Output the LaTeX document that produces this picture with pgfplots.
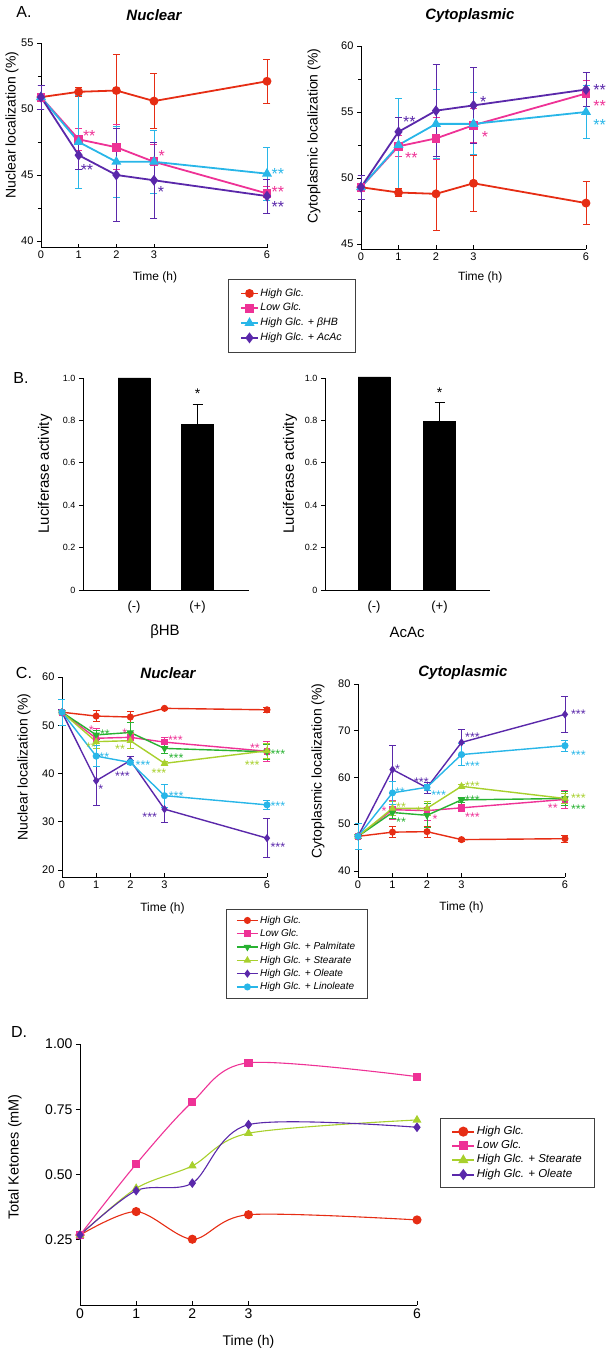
\documentclass[border=0pt]{standalone}
\usepackage{fontspec}
\setmainfont{Liberation Sans}
\usepackage{pgfplots}
\pgfplotsset{compat=1.18}

\definecolor{cRed}{RGB}{230,45,20}
\definecolor{cPink}{RGB}{238,50,150}
\definecolor{cCyan}{RGB}{40,182,232}
\definecolor{cPurple}{RGB}{90,40,170}
\definecolor{cGreen}{RGB}{40,178,50}
\definecolor{cLime}{RGB}{168,208,45}

\newcommand{\fs}[1]{\fontsize{#1}{#1}\selectfont}
% significance stars, glyph centred on the given point
\def\stsize{\fs{16}}\def\stshift{-3.4pt}
\newcommand{\st}[4]{\node[text=#1, font=\stsize, inner sep=0pt, anchor=west, yshift=\stshift] at (axis cs:#2,#3) {#4};}

\pgfplotsset{
  panel/.style={scale only axis, axis lines=left, axis line style={-, line width=0.9pt},
    clip=false, tick style={black, line width=0.8pt},
    major tick length=4pt, minor tick length=3pt,
    ytick align=outside, xtick align=inside,
    /pgf/number format/assume math mode=true,
    tick label style={font=\fs{11}},
    label style={font=\fs{14}},
    xlabel style={font=\fs{12}},
    xmin=0, xmax=6, xtick={0,1,2,3,6},
    legend cell align=left,
    legend image code/.code={\draw[mark repeat=2,mark phase=2,##1] plot coordinates {(0pt,0pt) (9pt,0pt) (18pt,0pt)};},
  },
  eb/.style={error bars/.cd, y dir=both, y explicit,
    error bar style={line width=0.8pt, solid},
    error mark options={rotate=90, mark size=3.5pt, line width=0.8pt}},
  sA/.style={color=#1, line width=1.8pt, mark options={solid, fill=#1}},
  sC/.style={color=#1, line width=1.4pt, mark options={solid, fill=#1}},
  barpanel/.style={scale only axis, axis lines=left, axis line style={-, line width=0.9pt}, clip=false,
    height=212pt, ymin=0, ymax=1,
    ybar, bar width=32pt, bar shift=0pt,
    /pgf/number format/assume math mode=true,
    ytick={0,0.2,0.4,0.6,0.8,1}, yticklabels={0,0.2,0.4,0.6,0.8,1.0},
    ytick align=outside, major tick length=4pt, tick style={black, line width=0.8pt},
    xtick={1,2}, xticklabels={(-),(+)}, x tick style={draw=none},
    yticklabel style={font=\fs{9}}, xticklabel style={font=\fs{13}, yshift=-4pt},
    ylabel={Luciferase activity}, ylabel style={font=\fs{15}}, xlabel style={font=\fs{15}}},
}

\begin{document}
\begin{tikzpicture}
\useasboundingbox (0,0) rectangle (607pt,1350pt);

\node[font=\fs{16}] at (24pt,1338pt) {A.};
\node[font=\fs{16}] at (21pt,972pt) {B.};
\node[font=\fs{16}] at (24pt,677pt) {C.};
\node[font=\fs{16}] at (19pt,318pt) {D.};

% ---------------- A: nuclear
\begin{axis}[panel, at={(41pt,1102.4pt)}, width=226pt, height=204.6pt,
  ymin=39.5, ymax=55, ytick={40,45,50,55}, minor y tick num=1,
  xlabel={Time (h)}, ylabel={Nuclear localization (\%)},
  xlabel style={at={(axis description cs:0.504,-0.144)}, anchor=center},
  ylabel style={at={(axis description cs:-0.128,0.6)}, anchor=center},
  title={Nuclear}, title style={at={(axis description cs:0.5,1.108)}, anchor=center, font=\fs{15}\bfseries\itshape},
  legend image code/.code={\draw[mark repeat=2,mark phase=2,#1] plot coordinates {(0pt,0pt) (8.5pt,0pt) (17pt,0pt)};},
  legend style={at={(axis description cs:0.827,-0.1535)}, anchor=north west, draw=black!75,
    font=\fs{10.6}\itshape, row sep=2.3pt, inner xsep=12pt, inner ysep=8pt,
    nodes={inner sep=1.5pt, text height=0.75em, text depth=0.2em}}]
\addplot[sA=cRed, mark=*, mark size=3.5pt, eb] coordinates {
  (0,50.9) +- (0,0.9) (1,51.3) +- (0,0.35) (2,51.4) +- (0,2.7) (3,50.6) +- (0,2.1) (6,52.1) +- (0,1.65)};
\addplot[sA=cPink, mark=square*, mark size=3.5pt, eb] coordinates {
  (0,50.9) +- (0,0.9) (1,47.7) +- (0,0.8) (2,47.1) +- (0,1.7) (3,46.0) +- (0,1.3) (6,43.6) +- (0,0.5)};
\addplot[sA=cCyan, mark=triangle*, mark size=4pt, eb] coordinates {
  (0,50.9) +- (0,0.9) (1,47.5) +- (0,3.5) (2,46.0) +- (0,2.7) (3,46.0) +- (0,2.4) (6,45.1) +- (0,2.0)};
\addplot[sA=cPurple, mark=diamond*, mark size=4pt, eb] coordinates {
  (0,50.9) +- (0,0.9) (1,46.5) +- (0,1.05) (2,45.0) +- (0,3.5) (3,44.6) +- (0,2.9) (6,43.4) +- (0,1.3)};
\legend{High Glc.,Low Glc.,High Glc. + βHB,High Glc. + AcAc}
\st{cPink}{1.11}{48.2}{**}
\st{cPurple}{1.05}{45.6}{**}
\st{cPink}{3.12}{46.7}{*}
\st{cPurple}{3.1}{44.0}{*}
\st{cCyan}{6.12}{45.3}{**}
\st{cPink}{6.12}{43.95}{**}
\st{cPurple}{6.12}{42.8}{**}
\end{axis}

% ---------------- A: cytoplasmic
\begin{axis}[panel, at={(361pt,1100.7pt)}, width=225pt, height=203.3pt,
  ymin=44.6, ymax=60, ytick={45,50,55,60}, minor y tick num=1,
  xlabel={Time (h)}, ylabel={Cytoplasmic localization (\%)},
  xlabel style={at={(axis description cs:0.53,-0.136)}, anchor=center},
  ylabel style={at={(axis description cs:-0.209,0.557)}, anchor=center},
  title={Cytoplasmic}, title style={at={(axis description cs:0.484,1.122)}, anchor=center, font=\fs{15}\bfseries\itshape}]
\addplot[sA=cRed, mark=*, mark size=3.5pt, eb] coordinates {
  (0,49.3) +- (0,0.9) (1,48.9) +- (0,0.3) (2,48.8) +- (0,2.8) (3,49.6) +- (0,2.15) (6,48.1) +- (0,1.65)};
\addplot[sA=cPink, mark=square*, mark size=3.5pt, eb] coordinates {
  (0,49.3) +- (0,0.9) (1,52.4) +- (0,0.8) (2,53.0) +- (0,1.6) (3,54.0) +- (0,1.3) (6,56.4) +- (0,1.0)};
\addplot[sA=cCyan, mark=triangle*, mark size=4pt, eb] coordinates {
  (0,49.3) +- (0,0.9) (1,52.5) +- (0,3.5) (2,54.1) +- (0,2.6) (3,54.1) +- (0,2.35) (6,55.0) +- (0,2.0)};
\addplot[sA=cPurple, mark=diamond*, mark size=4pt, eb] coordinates {
  (0,49.3) +- (0,0.9) (1,53.5) +- (0,1.1) (2,55.1) +- (0,3.5) (3,55.5) +- (0,2.9) (6,56.7) +- (0,1.3)};
\st{cPurple}{1.12}{54.5}{**}
\st{cPurple}{3.17}{56.05}{*}
\st{cPurple}{6.19}{56.95}{**}
\st{cPink}{1.17}{51.8}{**}
\st{cPink}{3.22}{53.4}{*}
\st{cPink}{6.19}{55.7}{**}
\st{cCyan}{6.19}{54.3}{**}
\end{axis}

% ---------------- B
\begin{axis}[barpanel, at={(83pt,760pt)}, width=166pt, xmin=0.197, xmax=2.81,
  xlabel={βHB},
  xlabel style={at={(axis description cs:0.494,-0.198)}, anchor=center},
  ylabel style={at={(axis description cs:-0.229,0.547)}, anchor=center}]
\addplot[fill=black, draw=black, error bars/.cd, y dir=plus, y explicit,
  error bar style={line width=0.8pt, black}, error mark options={rotate=90, mark size=5pt, black, line width=0.8pt}]
  coordinates {(1,1.0) (2,0.78) +- (0,0.095)};
\node[font=\fs{14}] at (axis cs:2,0.925) {*};
\end{axis}

\begin{axis}[barpanel, at={(325pt,760pt)}, width=165pt, xmin=0.252, xmax=2.77,
  xlabel={AcAc},
  xlabel style={at={(axis description cs:0.497,-0.198)}, anchor=center},
  ylabel style={at={(axis description cs:-0.212,0.547)}, anchor=center}]
\addplot[fill=black, draw=black, error bars/.cd, y dir=plus, y explicit,
  error bar style={line width=0.8pt, black}, error mark options={rotate=90, mark size=5pt, black, line width=0.8pt}]
  coordinates {(1,1.005) (2,0.795) +- (0,0.09)};
\node[font=\fs{14}] at (axis cs:2,0.93) {*};
\end{axis}

\def\stsize{\fs{12.5}}\def\stshift{-2.7pt}
% ---------------- C: nuclear
\begin{axis}[panel, at={(62pt,473pt)}, width=205pt, height=200pt,
  ymin=18.55, ymax=60, ytick={20,30,40,50,60},
  xlabel={Time (h)}, ylabel={Nuclear localization (\%)},
  xlabel style={at={(axis description cs:0.49,-0.155)}, anchor=center},
  ylabel style={at={(axis description cs:-0.185,0.55)}, anchor=center},
  title={Nuclear}, title style={at={(axis description cs:0.517,0.99)}, anchor=center, font=\fs{15}\bfseries\itshape},
  legend image code/.code={\draw[mark repeat=2,mark phase=2,#1] plot coordinates {(0pt,0pt) (10.5pt,0pt) (21pt,0pt)};},
  legend style={at={(axis description cs:0.8,-0.16)}, anchor=north west, draw=black!75,
    font=\fs{10}\itshape, row sep=0.8pt, inner xsep=10pt, inner ysep=5pt,
    nodes={inner sep=1.5pt, text height=0.75em, text depth=0.2em}}]
\addplot[sC=cRed, mark=*, mark size=2.8pt, eb] coordinates {
  (0,52.7) +- (0,0.5) (1,51.9) +- (0,1.2) (2,51.7) +- (0,1.1) (3,53.5) +- (0,0.3) (6,53.2) +- (0,0.6)};
\addplot[sC=cPink, mark=square*, mark size=2.6pt, eb] coordinates {
  (0,52.7) +- (0,0.5) (1,47.3) +- (0,2.0) (2,47.5) +- (0,1.0) (3,46.5) +- (0,1.0) (6,44.6) +- (0,2.0)};
\addplot[sC=cGreen, mark=triangle*, mark size=3pt, mark options={rotate=180}, eb] coordinates {
  (0,52.7) +- (0,0.5) (1,48.0) +- (0,1.0) (2,48.5) +- (0,2.0) (3,45.2) +- (0,1.0) (6,44.5) +- (0,1.5)};
\addplot[sC=cLime, mark=triangle*, mark size=3pt, eb] coordinates {
  (0,52.7) +- (0,0.5) (1,46.6) +- (0,1.5) (2,46.8) +- (0,1.5) (3,42.1) +- (0,0.5) (6,44.7) +- (0,1.5)};
\addplot[sC=cPurple, mark=diamond*, mark size=3pt, eb] coordinates {
  (0,52.7) +- (0,0.5) (1,38.5) +- (0,5.2) (2,42.7) +- (0,0.8) (3,32.6) +- (0,2.8) (6,26.6) +- (0,4.0)};
\addplot[sC=cCyan, mark=*, mark size=2.8pt, eb] coordinates {
  (0,52.7) +- (0,2.7) (1,43.6) +- (0,2.2) (2,42.3) +- (0,0.5) (3,35.4) +- (0,2.4) (6,33.5) +- (0,1.0)};
\legend{High Glc.,Low Glc.,High Glc. + Palmitate,High Glc. + Stearate,High Glc. + Oleate,High Glc. + Linoleate}
\st{cPink}{0.78}{49.6}{*}
\st{cGreen}{1.11}{48.7}{**}
\st{cPink}{1.76}{48.9}{*}
\st{cLime}{0.7}{46.1}{**}
\st{cLime}{1.55}{45.6}{**}
\st{cCyan}{1.09}{44.0}{**}
\st{cCyan}{2.15}{42.2}{***}
\st{cPurple}{1.55}{40.0}{***}
\st{cPurple}{1.06}{37.3}{*}
\st{cPink}{3.1}{47.5}{***}
\st{cGreen}{3.12}{43.8}{***}
\st{cLime}{2.62}{40.6}{***}
\st{cCyan}{3.12}{35.9}{***}
\st{cPurple}{2.35}{31.6}{***}
\st{cPink}{5.5}{45.9}{**}
\st{cGreen}{6.1}{44.5}{***}
\st{cLime}{5.35}{42.2}{***}
\st{cCyan}{6.1}{33.7}{***}
\st{cPurple}{6.1}{25.3}{***}
\end{axis}

% ---------------- C: cytoplasmic
\begin{axis}[panel, at={(358pt,473pt)}, width=207pt, height=193pt,
  ymin=38.7, ymax=80, ytick={40,50,60,70,80},
  xlabel={Time (h)}, ylabel={Cytoplasmic localization (\%)},
  xlabel style={at={(axis description cs:0.5,-0.16)}, anchor=center},
  ylabel style={at={(axis description cs:-0.193,0.55)}, anchor=center},
  title={Cytoplasmic}, title style={at={(axis description cs:0.507,1.026)}, anchor=center, font=\fs{15}\bfseries\itshape}]
\addplot[sC=cRed, mark=*, mark size=2.8pt, eb] coordinates {
  (0,47.4) +- (0,0.5) (1,48.3) +- (0,1.2) (2,48.4) +- (0,1.2) (3,46.7) +- (0,0.3) (6,46.9) +- (0,0.8)};
\addplot[sC=cPink, mark=square*, mark size=2.6pt, eb] coordinates {
  (0,47.4) +- (0,0.5) (1,53.1) +- (0,2.0) (2,52.9) +- (0,2.0) (3,53.5) +- (0,0.8) (6,55.3) +- (0,2.0)};
\addplot[sC=cGreen, mark=triangle*, mark size=3pt, mark options={rotate=180}, eb] coordinates {
  (0,47.4) +- (0,0.5) (1,52.5) +- (0,1.3) (2,51.9) +- (0,2.5) (3,55.2) +- (0,0.6) (6,55.5) +- (0,1.5)};
\addplot[sC=cLime, mark=triangle*, mark size=3pt, eb] coordinates {
  (0,47.4) +- (0,0.5) (1,53.4) +- (0,1.5) (2,53.4) +- (0,1.5) (3,58.1) +- (0,0.5) (6,55.5) +- (0,1.0)};
\addplot[sC=cPurple, mark=diamond*, mark size=3pt, eb] coordinates {
  (0,47.4) +- (0,0.5) (1,61.7) +- (0,5.1) (2,57.8) +- (0,1.2) (3,67.5) +- (0,2.8) (6,73.5) +- (0,3.9)};
\addplot[sC=cCyan, mark=*, mark size=2.8pt, eb] coordinates {
  (0,47.4) +- (0,2.7) (1,56.7) +- (0,2.4) (2,57.9) +- (0,0.6) (3,64.9) +- (0,2.4) (6,66.8) +- (0,1.2)};
\st{cPurple}{1.07}{62.3}{*}
\st{cCyan}{1.07}{57.5}{**}
\st{cLime}{1.1}{54.3}{**}
\st{cPink}{0.68}{53.4}{*}
\st{cGreen}{1.1}{50.9}{**}
\st{cLime}{1.68}{53.4}{*}
\st{cPurple}{1.62}{59.6}{***}
\st{cCyan}{2.12}{56.8}{***}
\st{cPink}{2.16}{51.6}{*}
\st{cPurple}{3.1}{69.1}{***}
\st{cCyan}{3.1}{63.0}{***}
\st{cLime}{3.1}{58.6}{***}
\st{cGreen}{3.1}{55.8}{***}
\st{cPink}{3.1}{52.0}{***}
\st{cPurple}{6.17}{74.2}{***}
\st{cCyan}{6.17}{65.3}{***}
\st{cLime}{6.17}{56.2}{***}
\st{cGreen}{6.17}{53.8}{***}
\st{cPink}{5.5}{54.1}{**}
\end{axis}

% ---------------- D
\begin{axis}[panel, at={(80pt,45pt)}, width=337pt, height=261pt,
  ymin=0, ymax=1, ytick={0.25,0.5,0.75,1}, yticklabels={0.25,0.50,0.75,1.00},
  tick label style={font=\fs{14}}, label style={font=\fs{14.5}}, xlabel style={font=\fs{14}},
  xlabel={Time (h)}, ylabel={Total Ketones (mM)},
  xlabel style={at={(axis description cs:0.5,-0.142)}, anchor=center},
  ylabel style={at={(axis description cs:-0.193,0.567)}, anchor=center},
  legend image code/.code={\draw[mark repeat=2,mark phase=2,#1, line width=2pt] plot coordinates {(0pt,0pt) (11pt,0pt) (22pt,0pt)};},
  legend style={at={(axis description cs:1.068,0.7165)}, anchor=north west, draw=black!75, line width=0.8pt,
    font=\fs{11.5}\itshape, row sep=1.8pt, inner xsep=11pt, inner ysep=7pt,
    nodes={inner sep=1.5pt, text height=0.75em, text depth=0.2em}},
  every axis plot/.append style={smooth, tension=0.5, line width=1.1pt}]
\addplot[color=cRed, mark=*, mark size=4pt, mark options={solid, fill=cRed}] coordinates {
  (0,0.268) (1,0.358) (2,0.252) (3,0.346) (6,0.326)};
\addplot[color=cPink, mark=square*, mark size=3.5pt, mark options={solid, fill=cPink}] coordinates {
  (0,0.268) (1,0.540) (2,0.778) (3,0.928) (6,0.875)};
\addplot[color=cLime, mark=triangle*, mark size=4pt, mark options={solid, fill=cLime}] coordinates {
  (0,0.268) (1,0.447) (2,0.533) (3,0.658) (6,0.709)};
\addplot[color=cPurple, mark=diamond*, mark size=4pt, mark options={solid, fill=cPurple}] coordinates {
  (0,0.268) (1,0.438) (2,0.467) (3,0.691) (6,0.681)};
\legend{High Glc.,Low Glc.,High Glc. + Stearate,High Glc. + Oleate}
\end{axis}
\end{tikzpicture}
\end{document}
